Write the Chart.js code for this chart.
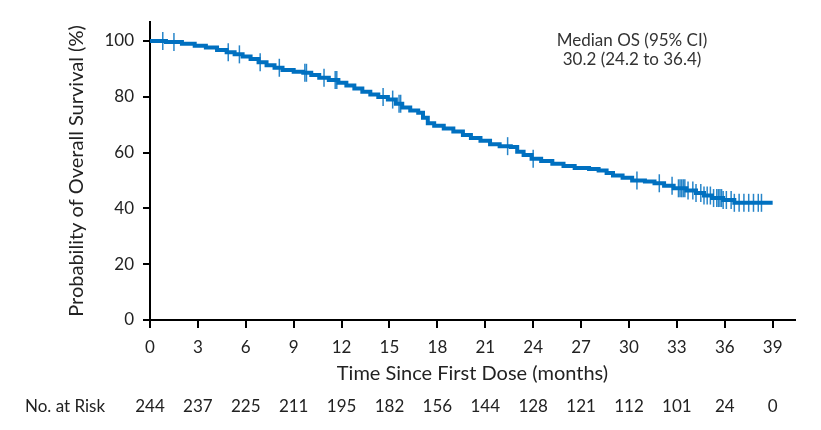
<!DOCTYPE html>
<html>
<head>
<meta charset="utf-8">
<script src="https://cdn.jsdelivr.net/npm/chart.js@4.4.0/dist/chart.umd.min.js"></script>
<style>
  html, body { margin:0; padding:0; background:#fff; }
  #wrap { width:821px; height:430px; position:relative; }
</style>
</head>
<body>
<div id="wrap"><canvas id="oschart"></canvas></div>
<script>
// Kaplan-Meier steps (months, % surviving)
const kmTime = [0, 1.0, 2.0, 2.8, 3.5, 4.2, 4.8, 5.3, 5.8, 6.3, 6.8, 7.3, 7.8, 8.3, 9.0, 9.6,
  10.1, 10.6, 11.2, 11.8, 12.3, 12.8, 13.3, 13.8, 14.3, 14.9, 15.4, 15.8, 16.3, 16.8, 17.1,
  17.4, 17.8, 18.4, 19.0, 19.6, 20.1, 20.7, 21.3, 21.9, 22.6, 23.0, 23.4, 23.9, 24.5, 25.2,
  25.9, 26.6, 27.5, 28.1, 28.6, 29.0, 29.6, 30.2, 31.0, 31.6, 32.2, 32.8, 33.6, 34.2, 34.7,
  35.2, 35.9, 36.6, 39.0];
const kmSurv = [100, 99.6, 99.0, 98.3, 97.7, 96.8, 96.0, 95.2, 94.4, 93.5, 92.4, 91.3, 90.4, 89.6, 89.0, 88.6,
  87.8, 86.8, 86.0, 85.0, 84.0, 83.0, 81.8, 80.8, 79.9, 79.0, 77.5, 76.2, 75.1, 74.3, 72.5,
  70.5, 69.6, 68.6, 67.6, 66.3, 65.2, 64.2, 63.0, 62.3, 62.0, 60.3, 59.1, 57.8, 57.0, 56.0,
  55.2, 54.5, 54.1, 53.6, 52.7, 51.8, 51.0, 50.0, 49.6, 49.0, 48.1, 47.2, 46.4, 45.5, 44.6,
  43.7, 43.0, 42.0, 42.0];
// censored observations (months)
const censorTime = [0.8, 1.5, 4.9, 5.6, 6.9, 8.1, 9.7, 9.8, 10.9, 11.6, 11.7, 14.6, 15.2, 15.6, 15.7,
  22.4, 24.0, 30.5, 31.9, 32.7, 33.1, 33.2, 33.3, 33.4, 33.5, 33.7, 34.0, 34.2, 34.5, 34.7,
  34.9, 35.1, 35.3, 35.5, 35.6, 35.7, 35.8, 35.9, 36.1, 36.4, 36.6, 36.9, 37.2, 37.5, 37.8,
  38.1, 38.3];
const xTicks = [0, 3, 6, 9, 12, 15, 18, 21, 24, 27, 30, 33, 36, 39];
const atRisk = [244, 237, 225, 211, 195, 182, 156, 144, 128, 121, 112, 101, 24, 0];
const medianText = ['Median OS (95% CI)', '30.2 (24.2 to 36.4)'];

const FONT = 'Lato, "Open Sans", sans-serif';
const BLUE = '#0070c0';

function survAt(t) {
  let s = kmSurv[0];
  for (let i = 0; i < kmTime.length; i++) {
    if (kmTime[i] <= t) s = kmSurv[i];
  }
  return s;
}

const kmPoints = kmTime.map((t, i) => ({x: t, y: kmSurv[i]}));
const censorPoints = censorTime.map(t => ({x: t, y: survAt(t)}));

const extrasPlugin = {
  id: 'extras',
  afterDraw(chart) {
    const ctx = chart.ctx;
    const xs = chart.scales.x;
    ctx.save();
    ctx.fillStyle = '#222';
    ctx.textBaseline = 'middle';
    ctx.font = '17px ' + FONT;
    ctx.textAlign = 'left';
    ctx.fillText('No. at Risk', 25, 407);
    ctx.textAlign = 'center';
    xTicks.forEach((t, i) => {
      ctx.fillText(String(atRisk[i]), xs.getPixelForValue(t), 407);
    });
    ctx.fillStyle = '#333';
    ctx.fillText(medianText[0], 632, 41);
    ctx.fillText(medianText[1], 632, 60);
    ctx.restore();
  }
};

const ctx = document.getElementById('oschart').getContext('2d');
const oschart = new Chart(ctx, {
  type: 'line',
  data: {
    datasets: [{
      label: 'OS',
      data: kmPoints,
      borderColor: BLUE,
      borderWidth: 4,
      stepped: true,
      pointRadius: 0,
      fill: false
    }, {
      label: 'Censored',
      data: censorPoints,
      showLine: false,
      pointStyle: 'line',
      rotation: 90,
      pointRadius: 9,
      pointHoverRadius: 9,
      pointBorderWidth: 1.5,
      borderColor: 'rgba(0,112,192,0.85)',
      backgroundColor: 'rgba(0,112,192,0.85)'
    }]
  },
  plugins: [extrasPlugin],
  options: {
    responsive: true,
    maintainAspectRatio: false,
    animation: false,
    layout: { padding: { left: 0, right: 26, top: 22, bottom: 44 } },
    plugins: { legend: { display: false }, tooltip: { enabled: false } },
    scales: {
      x: {
        type: 'linear',
        min: 0,
        max: 40.4,
        afterFit: s => { s.height = 66; },
        border: { display: true, color: '#000', width: 2 },
        grid: { drawOnChartArea: false, drawTicks: true, tickLength: 8, color: '#000', lineWidth: 2 },
        ticks: {
          stepSize: 3,
          includeBounds: false,
          color: '#222',
          padding: 9,
          font: { family: FONT, size: 17 },
          maxRotation: 0
        },
        title: {
          display: true,
          text: 'Time Since First Dose (months)',
          color: '#222',
          font: { family: FONT, size: 20 },
          padding: { top: 0, bottom: 0 }
        }
      },
      y: {
        min: 0,
        max: 106.8,
        afterFit: s => { s.width = 150; },
        border: { display: true, color: '#000', width: 2 },
        grid: { drawOnChartArea: false, drawTicks: true, tickLength: 7, color: '#000', lineWidth: 2 },
        ticks: {
          stepSize: 20,
          includeBounds: false,
          color: '#222',
          padding: 9,
          font: { family: FONT, size: 17 }
        },
        title: {
          display: true,
          text: 'Probability of Overall Survival (%)',
          color: '#222',
          font: { family: FONT, size: 20 },
          padding: { top: 65, bottom: 0 }
        }
      }
    }
  }
});
</script>
</body>
</html>
